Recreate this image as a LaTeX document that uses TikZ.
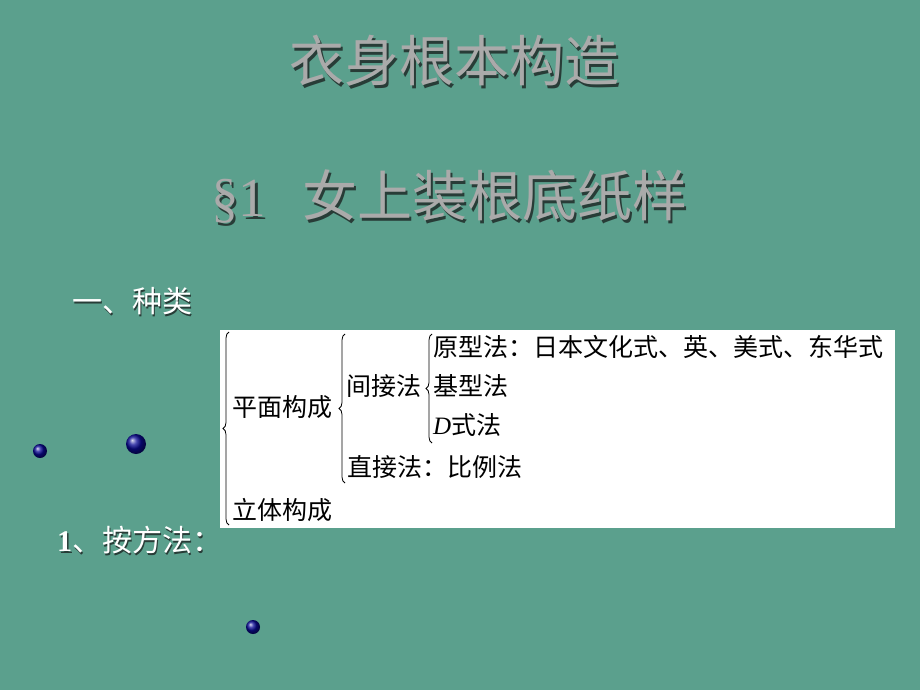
\documentclass[tikz,border=0pt]{standalone}
\usepackage{fontspec}
\setmainfont{Liberation Serif}
\newfontfamily\cjk{Noto Sans CJK SC}
\usetikzlibrary{decorations.pathreplacing}
\definecolor{bg}{RGB}{91,160,141}
\definecolor{titlegray}{RGB}{170,170,170}
\definecolor{shadowc}{RGB}{40,60,55}
\definecolor{dotblue}{RGB}{10,10,150}
\newcommand{\shtxt}[3]{\makebox[0pt][l]{\hspace{#1}\raisebox{-#1}{\color{shadowc}#3}}{\color{#2}#3}}
\begin{document}
\begin{tikzpicture}[x=1pt,y=-1pt,
  titletxt/.style={inner sep=0pt,font=\fontsize{55}{55}\selectfont\cjk},
  headtxt/.style={inner sep=0pt,anchor=west,font=\fontsize{30}{30}\selectfont\cjk},
  boxtxt/.style={inner sep=0pt,anchor=west,text=black,font=\fontsize{25}{25}\selectfont\cjk},
  bracedraw/.style={draw=black,line width=0.8pt,decorate,decoration={brace,amplitude=6pt}},
  dot/.style={circle,inner sep=0pt,shading=ball,ball color=dotblue}
]
\fill[bg] (0,0) rectangle (920,690);
\useasboundingbox (0,0) rectangle (920,690);

% titles
\node[titletxt] (t1) at (454,62) {\shtxt{2.5pt}{titlegray}{衣身根本构造}};
\node[titletxt,anchor=west] (t2) at (211,198) {\shtxt{2.5pt}{titlegray}{{\rmfamily §1}\hspace{36pt}女上装根底纸样}};

% headings
\node[headtxt] (h1) at (72,302) {\shtxt{1.5pt}{white}{一、种类}};
\node[headtxt] (h2) at (57,541) {\shtxt{1.5pt}{white}{{\rmfamily\bfseries 1}、按方法：}};

% white box
\node[fill=white,inner sep=0pt,minimum width=675pt,minimum height=198pt,anchor=north west] (box) at (220,330) {};

% tree texts
\node[boxtxt] (pm) at (232,407) {平面构成};
\node[boxtxt] (lt) at (232,510) {立体构成};
\node[boxtxt] (jj) at (346,386) {间接法};
\node[boxtxt] (zj) at (347,467) {直接法：比例法};
\node[boxtxt] (yx) at (433,347) {原型法：日本文化式、英、美式、东华式};
\node[boxtxt] (jx) at (433,386) {基型法};
\node[boxtxt] (ds) at (433,425) {{\rmfamily\itshape D}式法};

% braces
\coordinate (b1t) at (229,332);
\coordinate (b1b) at (229,525);
\coordinate (b2t) at (345,334);
\coordinate (b2b) at (345,483);
\coordinate (b3t) at (432,334);
\coordinate (b3b) at (432,443);
\draw[bracedraw] (b1b) -- (b1t);
\draw[bracedraw] (b2b) -- (b2t);
\draw[bracedraw] (b3b) -- (b3t);

% dots
\node[dot,minimum size=14pt] (d1) at (40,451) {};
\node[dot,minimum size=20pt] (d2) at (136,444) {};
\node[dot,minimum size=14pt] (d3) at (253,627) {};
\end{tikzpicture}
\end{document}
